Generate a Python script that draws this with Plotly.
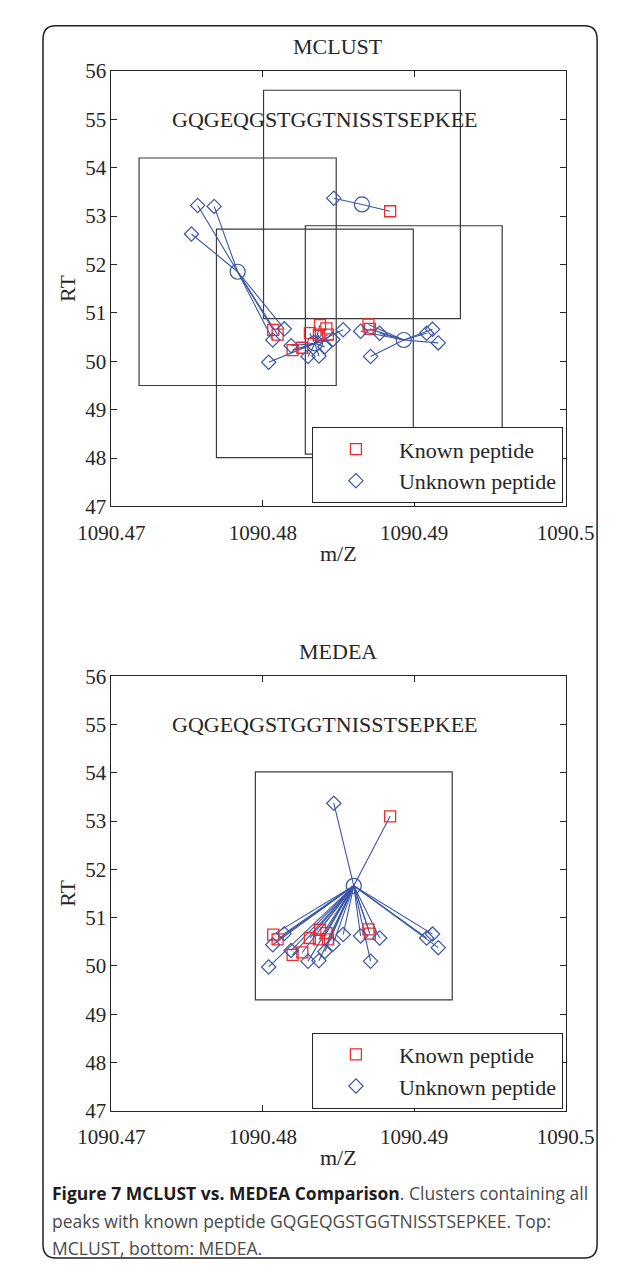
import plotly.graph_objects as go

W, H = 627, 1272

# Peaks: m/Z and retention time (RT)
known_mz = [1090.48069, 1090.48098, 1090.48197, 1090.48261, 1090.48311, 1090.48378,
            1090.48371, 1090.48420, 1090.48430, 1090.48698, 1090.48707, 1090.48841]
known_rt = [50.65, 50.55, 50.23, 50.28, 50.58, 50.75, 50.55, 50.68, 50.55, 50.76, 50.67, 53.10]

unknown_mz = [1090.47570, 1090.47679, 1090.47529, 1090.48142, 1090.48066, 1090.48039,
              1090.48187, 1090.48299, 1090.48371, 1090.48410, 1090.48463, 1090.48531,
              1090.48646, 1090.48712, 1090.48772, 1090.49082, 1090.49121, 1090.49159,
              1090.48469]
unknown_rt = [53.22, 53.20, 52.63, 50.67, 50.44, 49.98, 50.32, 50.10, 50.11, 50.30,
              50.45, 50.65, 50.62, 50.10, 50.58, 50.58, 50.66, 50.38, 53.37]

# MCLUST cluster membership of each peak
known_mclust = ["A", "A", "B", "B", "B", "B", "B", "B", "B", "D", "D", "C"]
unknown_mclust = ["A", "A", "A", "A", "A", "B", "B", "B", "B", "B", "B", "B",
                  "D", "D", "D", "D", "D", "D", "C"]

# MEDEA cluster membership ("" = peak not in the MEDEA cluster)
known_medea = ["M"] * 12
unknown_medea = ["", "", "", "M", "M", "M", "M", "M", "M", "M", "M", "M",
                 "M", "M", "M", "M", "M", "M", "M"]

# MCLUST cluster centres and box half-extents
mclust_ids = ["A", "B", "C", "D"]
mclust_center_mz = [1090.47834, 1090.48344, 1090.48655, 1090.48931]
mclust_center_rt = [51.85, 50.37, 53.24, 50.44]
mclust_half_mz = [0.00651, 0.00650, 0.00650, 0.00650]
mclust_half_rt = [2.35, 2.36, 2.36, 2.36]

# MEDEA: one cluster
medea_ids = ["M"]
medea_center_mz = [1090.48601]
medea_center_rt = [51.66]
medea_half_mz = [0.00650]
medea_half_rt = [2.36]

peptide = "GQGEQGSTGGTNISSTSEPKEE"
peptide_mz, peptide_rt = 1090.48408, 55.0

x_ticks = [1090.47, 1090.48, 1090.49, 1090.50]
x_tick_text = ["1090.47", "1090.48", "1090.49", "1090.5"]
y_ticks = list(range(47, 57))

BLUE = "#3A55A6"
RED = "#EE2A2E"
INK = "#262626"
SERIF = "Liberation Serif"

# panel pixel boxes (left, top, right, bottom)
panels = [(86, 60, 591, 504), (86, 677, 591, 1120)]


def px(xp):
    return xp / W


def py(yp):
    return 1 - yp / H


fig = go.Figure()


def pick(values, labels, cid):
    return [v for v, c in zip(values, labels) if c == cid]


def pick_any(values, labels):
    return [v for v, c in zip(values, labels) if c]


def add_panel(idx, centers_mz, centers_rt, known_lab, unknown_lab, ids):
    xa = "x" if idx == 0 else "x2"
    ya = "y" if idx == 0 else "y2"
    leg = "legend" if idx == 0 else "legend2"
    for cid, cx, cy in zip(ids, centers_mz, centers_rt):
        mx = pick(known_mz, known_lab, cid) + pick(unknown_mz, unknown_lab, cid)
        my = pick(known_rt, known_lab, cid) + pick(unknown_rt, unknown_lab, cid)
        lx, ly = [], []
        for a, b in zip(mx, my):
            lx += [cx, a, None]
            ly += [cy, b, None]
        fig.add_trace(go.Scatter(x=lx, y=ly, mode="lines", xaxis=xa, yaxis=ya,
                                 line=dict(color=BLUE, width=1.1),
                                 showlegend=False, hoverinfo="skip"))
    fig.add_trace(go.Scatter(x=pick_any(known_mz, known_lab), y=pick_any(known_rt, known_lab),
                             mode="markers", name="Known peptide",
                             xaxis=xa, yaxis=ya, legend=leg,
                             marker=dict(symbol="square-open", size=11, color=RED,
                                         line=dict(width=1.3, color=RED))))
    fig.add_trace(go.Scatter(x=pick_any(unknown_mz, unknown_lab),
                             y=pick_any(unknown_rt, unknown_lab),
                             mode="markers", name="Unknown peptide",
                             xaxis=xa, yaxis=ya, legend=leg,
                             marker=dict(symbol="diamond-open", size=11, color=BLUE,
                                         line=dict(width=1.2, color=BLUE))))
    fig.add_trace(go.Scatter(x=centers_mz, y=centers_rt, mode="markers", xaxis=xa, yaxis=ya,
                             showlegend=False,
                             marker=dict(symbol="circle-open", size=15, color=BLUE,
                                         line=dict(width=1.2, color=BLUE))))


add_panel(0, mclust_center_mz, mclust_center_rt, known_mclust, unknown_mclust, mclust_ids)
add_panel(1, medea_center_mz, medea_center_rt, known_medea, unknown_medea, medea_ids)

shapes = []
for xr, yr, cmz, crt, hmz, hrt in [
    ("x", "y", mclust_center_mz, mclust_center_rt, mclust_half_mz, mclust_half_rt),
    ("x2", "y2", medea_center_mz, medea_center_rt, medea_half_mz, medea_half_rt),
]:
    for cx, cy, hx, hy in zip(cmz, crt, hmz, hrt):
        shapes.append(dict(type="rect", xref=xr, yref=yr, x0=cx - hx, x1=cx + hx,
                           y0=cy - hy, y1=cy + hy, line=dict(color="#3a3a3a", width=1.2),
                           layer="below"))

# rounded figure frame
fl, ft, fr, fb, rad = 10, 14, 626, 1270, 14
path = (f"M {px(fl)},{py(ft + rad)} Q {px(fl)},{py(ft)} {px(fl + rad)},{py(ft)} "
        f"L {px(fr - rad)},{py(ft)} Q {px(fr)},{py(ft)} {px(fr)},{py(ft + rad)} "
        f"L {px(fr)},{py(fb - rad)} Q {px(fr)},{py(fb)} {px(fr - rad)},{py(fb)} "
        f"L {px(fl + rad)},{py(fb)} Q {px(fl)},{py(fb)} {px(fl)},{py(fb - rad)} Z")
shapes.append(dict(type="path", xref="paper", yref="paper", path=path,
                   line=dict(color="#231f20", width=1.5)))

axis_common = dict(showgrid=False, zeroline=False, showline=True, mirror="ticks",
                   linecolor=INK, linewidth=1, ticks="inside", ticklen=6, tickcolor=INK,
                   tickfont=dict(family=SERIF, size=21, color=INK))

layout_axes = {}
for i, (l, t, r, b) in enumerate(panels):
    sx = "" if i == 0 else "2"
    layout_axes["xaxis" + sx] = dict(axis_common, domain=[px(l), px(r)], range=[1090.47, 1090.50],
                                     tickvals=x_ticks, ticktext=x_tick_text,
                                     ticklabelstandoff=7, anchor="y" + sx)
    layout_axes["yaxis" + sx] = dict(axis_common, domain=[py(b), py(t)], range=[47, 56],
                                     tickvals=y_ticks, anchor="x" + sx)

annotations = []
for i, (title, (l, t, r, b)) in enumerate(zip(["MCLUST", "MEDEA"], panels)):
    sx = "" if i == 0 else "2"
    cx = (l + r) / 2
    annotations += [
        dict(x=px(cx), y=py(t - 25), xref="paper", yref="paper", text=title, showarrow=False,
             font=dict(family=SERIF, size=22, color=INK), xanchor="center", yanchor="middle"),
        dict(x=px(cx), y=py(b + 48), xref="paper", yref="paper", text="m/Z", showarrow=False,
             font=dict(family=SERIF, size=22, color=INK), xanchor="center", yanchor="middle"),
        dict(x=px(37), y=py((t + b) / 2), xref="paper", yref="paper", text="RT", showarrow=False,
             textangle=-90, font=dict(family=SERIF, size=22, color=INK),
             xanchor="center", yanchor="middle"),
        dict(x=peptide_mz, y=peptide_rt, xref="x" + sx, yref="y" + sx, text=peptide,
             showarrow=False, font=dict(family=SERIF, size=22, color=INK),
             xanchor="center", yanchor="middle"),
    ]

caption_lines = [
    "<b><span style='color:#1e1c1d'>Figure 7 MCLUST vs. MEDEA Comparison</span></b>. "
    "Clusters containing all",
    "peaks with known peptide GQGEQGSTGGTNISSTSEPKEE. Top:",
    "MCLUST, bottom: MEDEA.",
]
for k, line in enumerate(caption_lines):
    annotations.append(dict(x=px(18), y=py(1204 + 28 * k), xref="paper", yref="paper",
                            text=line, showarrow=False, xanchor="left", yanchor="middle",
                            font=dict(family="Open Sans", size=17.5, color="#4a4a4a")))

legend_style = dict(font=dict(family=SERIF, size=22, color=INK), bgcolor="white",
                    bordercolor=INK, borderwidth=1, itemwidth=76, xanchor="right",
                    yanchor="middle", tracegroupgap=0)

fig.update_layout(
    width=W, height=H, margin=dict(l=0, r=0, t=0, b=0),
    paper_bgcolor="white", plot_bgcolor="white",
    shapes=shapes, annotations=annotations,
    legend=dict(legend_style, x=px(588), y=py(462)),
    legend2=dict(legend_style, x=px(588), y=py(462 + 617)),
    **layout_axes,
)

fig.write_html("out.html")
